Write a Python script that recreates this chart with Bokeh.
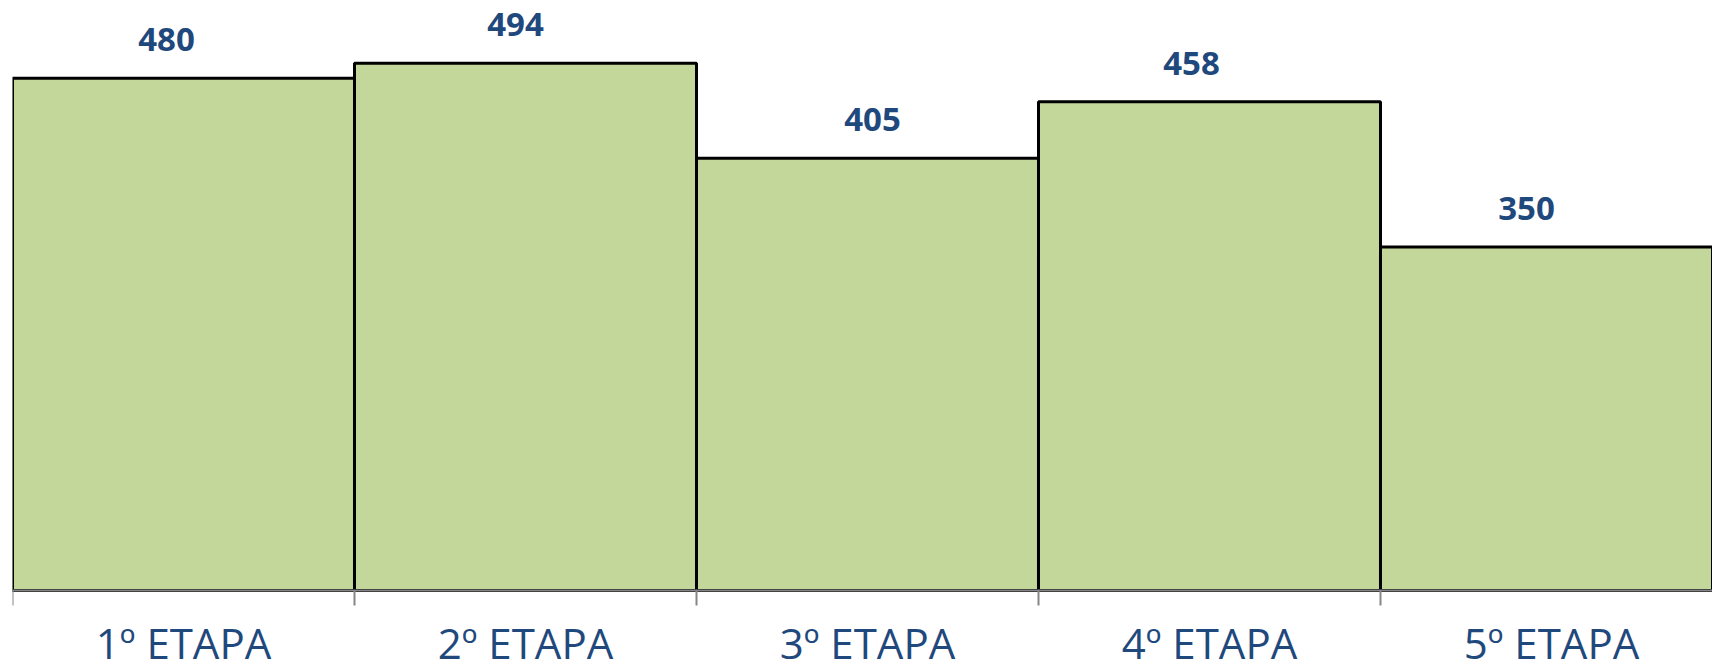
from bokeh.plotting import figure
from bokeh.models import ColumnDataSource, LabelSet, Range1d, LinearAxis, FixedTicker
from bokeh.core.properties import value
from bokeh.embed import file_html
from bokeh.resources import INLINE

# ---- data ----
categories = ["1º ETAPA", "2º ETAPA", "3º ETAPA", "4º ETAPA", "5º ETAPA"]
bar_heights = [480, 494, 405, 458, 322]
value_labels = ["480", "494", "405", "458", "350"]

# ---- styling (label horizontal nudges in px) ----
label_x_shift = [-17, -10, 5, -18, -25]
FILL = "#C4D79B"
TEXT = "#1F497D"
AXIS = "#868686"
FONT = "Open Sans"

xs = list(range(len(categories)))
src = ColumnDataSource(dict(x=xs, top=bar_heights, label=value_labels, dx=label_x_shift))

p = figure(width=1712, height=671, output_backend="svg", toolbar_location=None,
           x_range=Range1d(-0.5, 4.4708), y_range=Range1d(-75.9, 552.9),
           x_axis_location=None, y_axis_location=None,
           min_border_left=12, min_border_right=0, min_border_top=0, min_border_bottom=0)
p.outline_line_color = None
p.grid.visible = False
p.background_fill_color = "white"
p.border_fill_color = "white"

p.vbar(x="x", bottom=0, top="top", width=1, source=src, fill_color=FILL,
       line_color="black", line_width=3)

ax = LinearAxis(fixed_location=0,
                ticker=FixedTicker(ticks=xs, minor_ticks=[x - 0.5 for x in xs]),
                major_label_overrides={x: c for x, c in zip(xs, categories)},
                axis_line_color=AXIS, axis_line_width=2,
                major_tick_line_color=None, major_tick_out=0, major_tick_in=0,
                minor_tick_line_color=AXIS, minor_tick_line_width=2,
                minor_tick_out=15, minor_tick_in=0,
                major_label_standoff=8,
                major_label_text_font=FONT, major_label_text_font_size="42px",
                major_label_text_color=TEXT)
p.add_layout(ax, "below")

p.add_layout(LabelSet(x="x", y="top", text="label", source=src,
                      x_offset="dx", y_offset=27,
                      text_align="center", text_baseline="alphabetic",
                      text_font=value(FONT), text_font_style="bold",
                      text_font_size="33px", text_color=TEXT))

open("out.html", "w").write(file_html(p, INLINE))
